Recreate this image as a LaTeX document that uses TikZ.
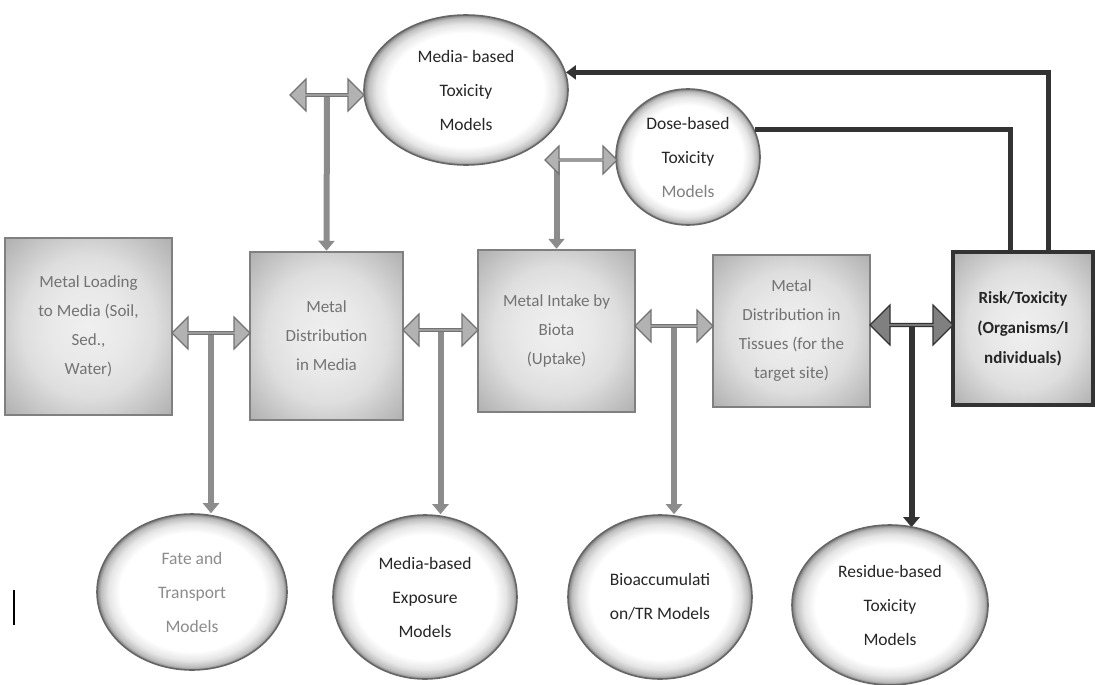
\documentclass[tikz,border=0pt]{standalone}
\usepackage{fontspec}
\setmainfont{Carlito}
\usetikzlibrary{shapes.geometric,shapes.arrows,arrows.meta}
\pgfdeclarelayer{bg}
\pgfsetlayers{bg,main}
\pgfdeclareradialshading{ellshade}{\pgfpoint{0bp}{0bp}}{color(0bp)=(white); color(19bp)=(white); color(22bp)=(black!10); color(24bp)=(black!26); color(25bp)=(black!50); color(50bp)=(black!55)}
\pgfdeclareradialshading{boxshade}{\pgfpoint{0bp}{0bp}}{color(0bp)=(black!6); color(12bp)=(black!9); color(20bp)=(black!13); color(25bp)=(black!19); color(36bp)=(black!32); color(50bp)=(black!38)}
\tikzset{
  box/.style={rectangle, shading=boxshade, draw=black!50, line width=2.5pt, align=center,
    text=black!55, font=\fontsize{17}{29}\selectfont, inner sep=4pt},
  riskbox/.style={box, draw=black!80, line width=4pt, text=black!85, font=\bfseries\fontsize{17}{30}\selectfont},
  ell/.style={ellipse, shading=ellshade, draw=black!60, line width=1.6pt, align=center,
    text=black!85, font=\fontsize{17.5}{34}\selectfont, inner sep=0pt},
  dbl/.style={double arrow, draw=black!55, fill=black!30, line width=1.2pt,
    double arrow head extend=7pt, minimum width=32pt, inner sep=0pt},
  dbldark/.style={dbl, draw=black!80, fill=black!50, minimum width=40pt},
  stem/.style={line width=6pt, draw=black!45, -{Triangle[width=16pt,length=10pt]}},
  stemdark/.style={stem, draw=black!80},
  darkline/.style={line width=5pt, draw=black!80}
}
\begin{document}
\begin{tikzpicture}[x=1pt,y=-1pt]
\useasboundingbox (0,0) rectangle (1095,685);
% boxes
\node[box, minimum width=167pt, minimum height=177pt] (load) at (88.5,326.5) {Metal Loading\\to Media (Soil,\\Sed.,\\Water)};
\node[box, minimum width=153pt, minimum height=168pt] (distm) at (326.5,336) {Metal\\Distribution\\in Media};
\node[box, minimum width=157pt, minimum height=162pt] (intake) at (556.5,331) {Metal Intake by\\Biota\\(Uptake)};
\node[box, minimum width=157pt, minimum height=152pt] (tissue) at (791.5,331) {Metal\\Distribution in\\Tissues (for the\\target site)};
\node[riskbox, minimum width=140pt, minimum height=153pt] (risk) at (1023,328.5) {Risk/Toxicity\\(Organisms/I\\ndividuals)};
% ellipses
\node[ell, minimum width=204pt, minimum height=150pt] (mtox) at (466,90) {Media- based\\Toxicity\\Models};
\node[ell, minimum width=144pt, minimum height=136pt] (dose) at (688,157) {Dose-based\\Toxicity\\\textcolor{black!50}{Models}};
\node[ell, minimum width=190pt, minimum height=156pt, text=black!45] (fate) at (192,592) {Fate and\\Transport\\Models};
\node[ell, minimum width=184pt, minimum height=164pt] (expo) at (425,597) {Media-based\\Exposure\\Models};
\node[ell, minimum width=184pt, minimum height=164pt] (bio) at (660,597) {Bioaccumulati\\on/TR Models};
\node[ell, minimum width=196pt, minimum height=160pt] (resid) at (890,605) {Residue-based\\Toxicity\\Models};
% horizontal double arrows
\node[dbl, minimum height=78pt] (a12) at (211,333) {};
\node[dbl, minimum height=75pt] (a23) at (440.5,330) {};
\node[dbl, minimum height=78pt] (a34) at (674,326) {};
\node[dbldark, minimum height=83pt] (a45) at (911.5,325) {};
\node[dbl, minimum height=74pt] (amt) at (327,95) {};
\node[dbl, minimum height=72pt, minimum width=28pt] (adose) at (581,160) {};
% stems
\begin{pgfonlayer}{bg}
\draw[stem] (a12.center) -- (a12.center |- fate.north);
\draw[stem] (a23.center) -- (a23.center |- expo.north);
\draw[stem] (a34.center) -- (a34.center |- bio.north);
\draw[stemdark] (a45.center) -- ([yshift=-3pt]a45.center |- resid.north);
\draw[stem] (amt.center) -- (distm.north);
\draw[stem] (adose.center -| intake.north) -- (intake.north);
\end{pgfonlayer}
% dark connectors from the risk box
\draw[darkline, -{Triangle[width=14pt,length=10pt]}] ([xshift=25pt]risk.north) |- (mtox.10);
\draw[darkline] ([xshift=-13pt]risk.north) |- (dose.22);
% stray mark
\draw[line width=1.5pt] (14,590) -- (14,625);
\end{tikzpicture}
\end{document}
